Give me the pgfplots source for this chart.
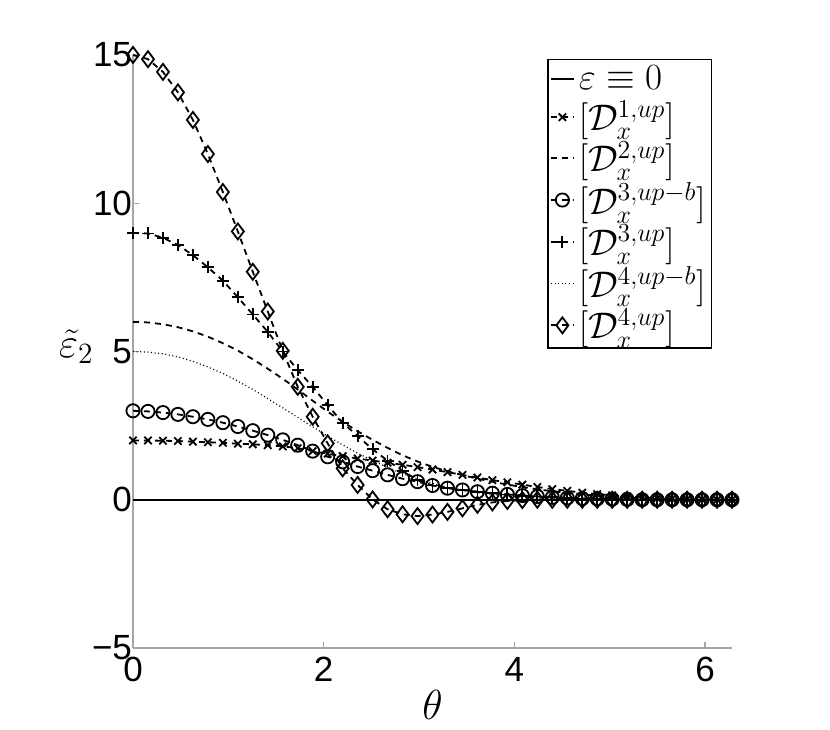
\RequirePackage{fix-cm}
\documentclass[border=0pt]{standalone}
\usepackage{fontspec}
\setmainfont{Liberation Sans}
\usepackage{pgfplots}
\usepackage{pgfplotstable}
\pgfplotsset{compat=1.18}
\pgfplotstableread{
th d1 d2 d3b d3 d4b d4
0 2.00 6.00 3.00 9.00 5.00 15.00
0.1571 2.00 5.98 2.98 8.98 4.98 14.86
0.3142 1.99 5.92 2.94 8.84 4.92 14.43
0.4712 1.98 5.82 2.88 8.59 4.82 13.74
0.6283 1.96 5.68 2.80 8.25 4.67 12.81
0.7854 1.94 5.50 2.71 7.84 4.48 11.66
0.9425 1.92 5.28 2.60 7.39 4.26 10.38
1.0996 1.89 5.03 2.47 6.83 4.00 9.05
1.2566 1.87 4.74 2.33 6.25 3.72 7.69
1.4137 1.84 4.42 2.18 5.66 3.41 6.35
1.5708 1.80 4.08 2.02 5.00 3.10 5.02
1.7279 1.74 3.72 1.84 4.37 2.78 3.81
1.8850 1.64 3.34 1.64 3.81 2.46 2.80
2.0420 1.55 2.97 1.45 3.19 2.15 1.90
2.1991 1.47 2.63 1.28 2.60 1.85 1.06
2.3562 1.39 2.31 1.12 2.15 1.57 0.50
2.5133 1.32 2.02 0.98 1.70 1.32 0.01
2.6704 1.25 1.75 0.84 1.32 1.09 -0.32
2.8274 1.18 1.50 0.71 0.98 0.88 -0.49
2.9845 1.10 1.29 0.61 0.66 0.70 -0.55
3.1416 1.02 1.11 0.48 0.48 0.55 -0.50
3.2987 0.93 0.96 0.39 0.39 0.42 -0.41
3.4558 0.84 0.83 0.33 0.33 0.32 -0.29
3.6128 0.75 0.71 0.27 0.27 0.24 -0.17
3.7699 0.66 0.61 0.22 0.22 0.17 -0.09
3.9270 0.59 0.51 0.18 0.18 0.12 -0.04
4.0841 0.51 0.43 0.14 0.14 0.08 -0.01
4.2412 0.43 0.35 0.11 0.11 0.05 0
4.3982 0.36 0.29 0.08 0.08 0.03 0
4.5553 0.30 0.23 0.06 0.06 0.02 0
4.7124 0.24 0.18 0.04 0.04 0.01 0
4.8695 0.19 0.14 0.03 0.03 0 0
5.0265 0.15 0.10 0.02 0.02 0 0
5.1836 0.11 0.07 0.01 0.01 0 0
5.3407 0.08 0.05 0 0 0 0
5.4978 0.05 0.03 0 0 0 0
5.6549 0.03 0.02 0 0 0 0
5.8119 0.02 0.01 0 0 0 0
5.9690 0.01 0 0 0 0 0
6.1261 0 0 0 0 0 0
6.2832 0 0 0 0 0 0
}\datatab
\begin{document}
\begin{tikzpicture}
\path[use as bounding box] (-66.5pt,-40.5pt) rectangle (348.5pt,324pt);
\begin{axis}[
  at={(0pt,0pt)}, anchor=south west,
  scale only axis, width=299.5pt, height=296.5pt,
  xmin=0, xmax=6.2832, ymin=-5, ymax=15,
  axis lines=left,
  axis line style={gray!70, -, line width=0.8pt},
  tick style={gray!70, line width=0.6pt},
  tick align=inside,
  major tick length=3pt,
  xtick={0,2,4,6},
  ytick={-5,0,5,10,15},
  yticklabels={−5,0,5,10,15},
  /pgf/number format/assume math mode=true,
  ticklabel style={font=\fontsize{17.5}{20}\selectfont, black},
  xticklabel style={yshift=-1pt},
  yticklabel style={xshift=3pt},
  xlabel={$\theta$},
  ylabel={$\tilde{\varepsilon}_2$},
  label style={font=\fontsize{21}{24}\selectfont},
  xlabel style={at={(axis description cs:0.5,-0.096)}, anchor=center},
  ylabel style={at={(axis description cs:-0.095,0.508)}, anchor=center, rotate=-90},
  legend style={at={(0.967,0.993)}, anchor=north east, draw=black, line width=0.6pt,
    font=\fontsize{18.5}{20}\selectfont, inner sep=1pt, row sep=0pt, fill=white,
    legend cell align=left},
  legend image code/.code={\draw[mark repeat=2,mark phase=2,#1] plot coordinates {(0cm,0cm) (0.2cm,0cm) (0.4cm,0cm)};},
  every axis plot/.append style={black, line width=0.9pt},
  clip=false,
]
\addplot[solid, line width=1pt] coordinates {(0,0) (6.2832,0)};
\addlegendentry{$\varepsilon\equiv0$}
\addplot[dash pattern=on 3pt off 2.5pt, mark=x, mark size=2.6pt, mark options={solid}] table[x=th,y=d1] {\datatab};
\addlegendentry{$[\mathcal{D}_x^{1,up}]$}
\addplot[dash pattern=on 3pt off 2.5pt] table[x=th,y=d2] {\datatab};
\addlegendentry{$[\mathcal{D}_x^{2,up}]$}
\addplot[dash pattern=on 3pt off 2.5pt, mark=o, mark size=3.3pt, mark options={solid}] table[x=th,y=d3b] {\datatab};
\addlegendentry{$[\mathcal{D}_x^{3,up-b}]$}
\addplot[dash pattern=on 3pt off 2.5pt, mark=+, mark size=3pt, mark options={solid}] table[x=th,y=d3] {\datatab};
\addlegendentry{$[\mathcal{D}_x^{3,up}]$}
\addplot[dash pattern=on 0.5pt off 1.3pt, line width=0.6pt] table[x=th,y=d4b] {\datatab};
\addlegendentry{$[\mathcal{D}_x^{4,up-b}]$}
\addplot[dash pattern=on 3pt off 2.5pt, mark=diamond, mark size=4pt, mark options={solid}] table[x=th,y=d4] {\datatab};
\addlegendentry{$[\mathcal{D}_x^{4,up}]$}
\end{axis}
\end{tikzpicture}
\end{document}
